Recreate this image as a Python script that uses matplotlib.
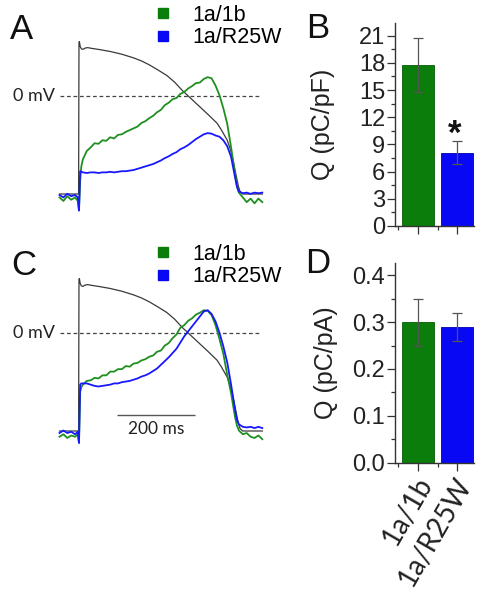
import matplotlib
matplotlib.use("Agg")
import matplotlib.pyplot as plt
import matplotlib.transforms as mtransforms
from matplotlib.lines import Line2D
from matplotlib.ticker import MultipleLocator, FixedLocator, FormatStrFormatter

# ---------------- data ----------------
# Action potential clamp waveform (ms, mV)
ap_t = [-50, -1, 0, 1, 3, 6, 10, 15, 22, 30, 50, 80, 110, 140, 160, 180, 200, 225,
        245, 265, 285, 310, 330, 354, 365, 380, 388, 395, 400, 405, 409, 413, 420, 470]
ap_v = [-81, -81, 44, 45, 41, 39, 38.5, 39.5, 40, 39.5, 38.5, 36.8, 34.5, 31.5, 29, 25.8, 22, 17,
        11.5, 4.5, -1.5, -9, -15, -22.5, -28, -36.5, -44, -53, -61, -69, -75, -79, -81, -81]

# Current traces (normalized), shared time base (ms)
cur_t = [-50, -40, -30, -20, -10, -3, 0, 3, 6,
         10, 20, 30, 40, 50, 60, 70, 80, 90, 100, 110, 120, 130, 140, 150, 160, 170, 180, 190, 200,
         210, 220, 230, 240, 250, 260, 270, 280, 290, 300, 310, 320, 330, 340, 350, 360, 370, 380,
         390, 400, 405, 410, 420, 430, 440, 450, 460, 470]

green_A = [-0.02, -0.05, -0.01, -0.04, -0.02, -0.05, -0.13, 0.12, 0.24,
           0.30, 0.37, 0.40, 0.435, 0.43, 0.46, 0.455, 0.485, 0.475, 0.505, 0.51, 0.53, 0.545,
           0.56, 0.575, 0.605, 0.62, 0.645, 0.665, 0.695, 0.715, 0.755, 0.775, 0.805, 0.815,
           0.85, 0.865, 0.895, 0.915, 0.94, 0.945, 0.975, 0.99, 0.98, 0.92, 0.84, 0.73, 0.60,
           0.40, 0.18, 0.07, 0.02, -0.02, -0.06, -0.03, -0.07, -0.03, -0.06]
blue_A = [0.0, -0.02, 0.01, -0.01, 0.0, -0.02, -0.13, 0.20, 0.195,
          0.19, 0.185, 0.19, 0.19, 0.185, 0.19, 0.19, 0.195, 0.19, 0.195, 0.20, 0.20, 0.205, 0.21,
          0.22, 0.23, 0.24, 0.25, 0.26, 0.275, 0.29, 0.31, 0.325, 0.345, 0.36, 0.385, 0.40, 0.42,
          0.445, 0.47, 0.49, 0.51, 0.52, 0.515, 0.50, 0.49, 0.46, 0.41, 0.32, 0.15, 0.07, 0.03,
          0.015, 0.02, 0.01, 0.02, 0.015, 0.02]
green_C = [-0.03, -0.01, -0.04, -0.02, -0.03, -0.01, -0.08, 0.33, 0.37,
           0.39, 0.42, 0.425, 0.445, 0.44, 0.465, 0.465, 0.495, 0.495, 0.515, 0.515, 0.54, 0.535,
           0.56, 0.565, 0.585, 0.595, 0.615, 0.625, 0.655, 0.665, 0.705, 0.725, 0.765, 0.795,
           0.85, 0.87, 0.905, 0.925, 0.955, 0.97, 0.99, 0.985, 0.95, 0.87, 0.76, 0.64, 0.47,
           0.32, 0.13, 0.06, 0.02, -0.01, 0.0, -0.03, -0.04, -0.02, -0.05]
blue_C = [0.0, 0.02, 0.0, 0.01, -0.01, 0.01, -0.08, 0.39, 0.40,
          0.40, 0.40, 0.39, 0.38, 0.375, 0.38, 0.385, 0.39, 0.40, 0.40, 0.41, 0.415, 0.42, 0.43,
          0.44, 0.455, 0.465, 0.48, 0.50, 0.52, 0.55, 0.58, 0.61, 0.645, 0.68, 0.73, 0.78, 0.82,
          0.86, 0.90, 0.94, 0.98, 0.99, 0.96, 0.90, 0.81, 0.70, 0.57, 0.39, 0.19, 0.105, 0.07,
          0.05, 0.045, 0.05, 0.04, 0.05, 0.04]

series_labels = ["1a/1b", "1a/R25W"]
q_pf = [17.8, 8.1]
q_pf_err = [3.0, 1.3]
q_pa = [0.30, 0.29]
q_pa_err = [0.05, 0.03]

GREEN = "#0a7d0a"
BLUE = "#0808f5"
GREEN_L = "#1f8f1f"
BLUE_L = "#1818ff"

# ---------------- figure ----------------
W, H = 486, 601
fig = plt.figure(figsize=(W / 100, H / 100), dpi=100)
SANS = ["Liberation Sans", "DejaVu Sans"]
HUM = ["Lato", "DejaVu Sans"]


def px_axes(l, t, r, b):
    return fig.add_axes([l / W, 1 - b / H, (r - l) / W, (b - t) / H])


def trace_panel(top, cur_lim, g, b, legend_top, scalebar=False):
    ax = px_axes(55, top, 265, top + 177)
    ax.set_xlim(-61.5, 476.9)
    ax.set_ylim(-98.35, 47.93)
    ax.set_axis_off()
    ax.plot(ap_t, ap_v, color="#3a3a3a", lw=0.9)
    ax.hlines(0, -49, 464, colors="#444444", linestyles=(0, (3.0, 2.2)), lw=0.9)
    ax.text(-62, 0, "0 mV", ha="right", va="center", fontsize=13, family=HUM, color="#222222")
    if scalebar:
        ax.hlines(-67.8, 97, 297, colors="#555555", lw=1.0)
        ax.text(197, -72.5, "200 ms", ha="center", va="top", fontsize=12.5, family=HUM,
                color="#222222")
    ax2 = ax.twinx()
    ax2.set_ylim(*cur_lim)
    ax2.set_axis_off()
    ax2.plot(cur_t, g, color=GREEN_L, lw=1.3)
    ax2.plot(cur_t, b, color=BLUE_L, lw=1.3)
    handles = [Line2D([], [], marker="s", ls="none", color=GREEN, markersize=7.5),
               Line2D([], [], marker="s", ls="none", color=BLUE, markersize=7.5)]
    ax2.legend(handles, series_labels, loc="upper left",
               bbox_to_anchor=(153 / W, 1 - legend_top / H), bbox_transform=fig.transFigure,
               frameon=False, handlelength=0.9, handletextpad=0.95, labelspacing=0.05,
               borderpad=0, borderaxespad=0, prop={"family": SANS, "size": 15.5})
    return ax


trace_panel(38, (-0.168, 1.319), green_A, blue_A, 5)
trace_panel(275, (-0.153, 1.274), green_C, blue_C, 244, scalebar=True)


def bar_panel(top, bottom, vals, errs, ylim, major, minor, fmt, ylabel, label_x, show_xlabels):
    ax = px_axes(394.7, top, 474, bottom)
    x = list(range(len(vals)))
    ax.bar(x, vals, width=0.8, color=[GREEN, BLUE], edgecolor=["#065a06", "#0000b0"], lw=0.6,
           zorder=2)
    ax.errorbar(x, vals, yerr=errs, fmt="none", ecolor="#555555", elinewidth=0.9, capsize=3.6,
                capthick=0.9, zorder=3)
    ax.set_xlim(-0.58, 1.42)
    ax.set_ylim(*ylim)
    for s in ("top", "right"):
        ax.spines[s].set_visible(False)
    for s in ("left", "bottom"):
        ax.spines[s].set_color("#333333")
        ax.spines[s].set_linewidth(1.0)
    ax.yaxis.set_major_locator(MultipleLocator(major))
    ax.yaxis.set_minor_locator(MultipleLocator(minor))
    ax.yaxis.set_major_formatter(FormatStrFormatter(fmt))
    ax.set_xticks(x)
    ax.xaxis.set_minor_locator(FixedLocator([-0.5, 0.5]))
    ax.tick_params(axis="both", which="major", direction="out", length=5.8, width=0.9,
                   color="#333333")
    ax.tick_params(axis="both", which="minor", direction="out", length=3.0, width=0.9,
                   color="#333333")
    ax.tick_params(axis="y", which="major", labelsize=17, pad=1, labelcolor="#222222")
    for t in ax.get_yticklabels():
        t.set_family(SANS)
    if show_xlabels:
        ax.set_xticklabels(series_labels, rotation=60, ha="right", va="center",
                           rotation_mode="anchor", family=HUM, fontsize=20, color="#222222")
        ax.tick_params(axis="x", which="major", pad=6)
        shift = mtransforms.ScaledTranslation(8 / 100, 0, fig.dpi_scale_trans)
        for t in ax.get_xticklabels():
            t.set_transform(t.get_transform() + shift)
    else:
        ax.set_xticklabels([])
    ax.set_ylabel(ylabel, fontsize=18, family=SANS, color="#222222")
    ax.yaxis.set_label_coords(label_x, 0.5)
    return ax


axB = bar_panel(23, 226, q_pf, q_pf_err, (0, 22.4), 3, 1.5, "%d", "Q (pC/pF)", -0.75, False)
axB.text(0.93, q_pf[1] + q_pf_err[1] - 0.3, "*", ha="center", va="baseline", fontsize=25,
         fontweight="bold", family=SANS, color="#111111")
axD = bar_panel(263, 462.7, q_pa, q_pa_err, (0, 0.426), 0.1, 0.05, "%.1f", "Q (pC/pA)", -0.715,
                True)

# panel letters
for letter, xpx, ypx in [("A", 10, 39), ("B", 306, 38), ("C", 11, 275), ("D", 305, 273)]:
    fig.text(xpx / W, 1 - ypx / H, letter, ha="left", va="baseline", fontsize=25, family=SANS,
             color="#111111")

fig.savefig("out.png", dpi=100)
